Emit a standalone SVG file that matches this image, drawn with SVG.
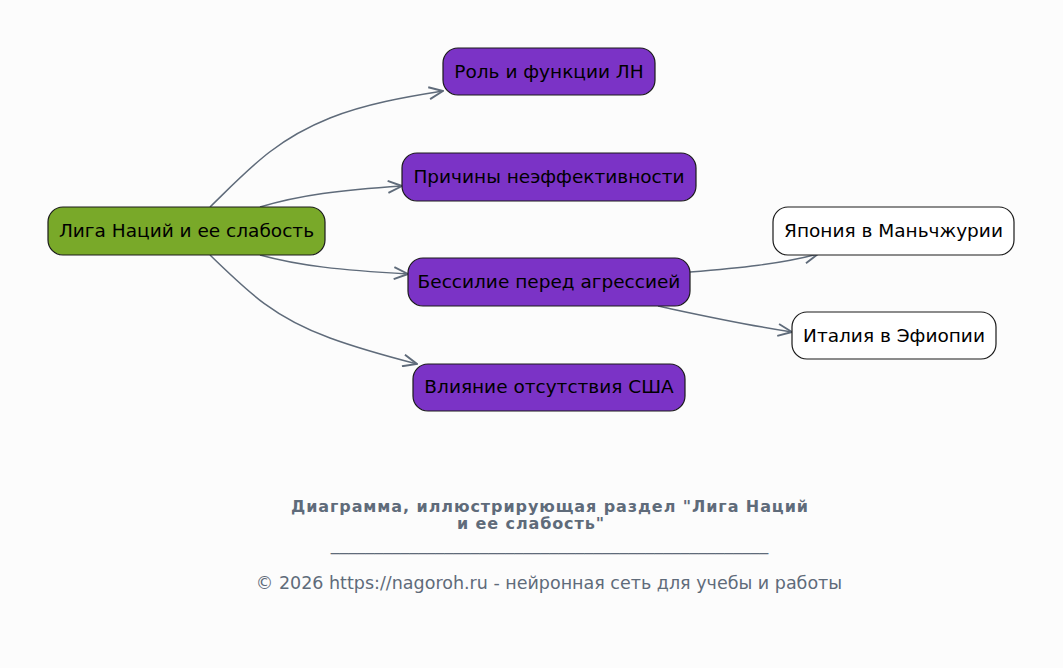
<svg xmlns="http://www.w3.org/2000/svg" width="1063" height="668" viewBox="0 0 1063 668">
<defs>
<style>
.n rect{stroke:#1a1a1a;stroke-width:1.2}
.p rect{fill:#7b33c6}
.w rect{fill:#ffffff}
.g rect{fill:#79a929}
.n text{font-family:"DejaVu Sans",sans-serif;font-size:18.5px;fill:#000;text-anchor:middle;dominant-baseline:central}
.e path{fill:none;stroke:#5f6b7a;stroke-width:1.5}
.t{font-family:"DejaVu Sans",sans-serif;fill:#5f6b7a;text-anchor:middle}
</style>
<marker id="ah" viewBox="0 0 16 14" refX="15" refY="7" markerWidth="16" markerHeight="14" markerUnits="userSpaceOnUse" orient="auto">
<path d="M1,1 L15,7 L1,13" fill="none" stroke="#5f6b7a" stroke-width="1.9"/>
</marker>
</defs>
<rect width="1063" height="668" fill="#fcfcfc"/>
<g id="connectors" class="e">
<path d="M210,207 C250,168 275,140 330,118 C365,104 405,97 443,91" marker-end="url(#ah)"/>
<path d="M260,207 C300,195 340,190 402,186" marker-end="url(#ah)"/>
<path d="M260,255 C300,266 340,270 408,274" marker-end="url(#ah)"/>
<path d="M210,255 C250,294 275,318 330,338 C360,349 390,357 417,364" marker-end="url(#ah)"/>
<path d="M690,272 C740,268 780,264 818,254" marker-end="url(#ah)"/>
<path d="M658,306 C700,315 740,324 792,332" marker-end="url(#ah)"/>
</g>
<g id="n0" class="n g"><rect x="48" y="207" width="277" height="48" rx="15"/><text x="186.5" y="230">Лига Наций и ее слабость</text></g>
<g id="n1" class="n p"><rect x="443" y="48" width="212" height="47" rx="15"/><text x="549" y="71">Роль и функции ЛН</text></g>
<g id="n2" class="n p"><rect x="402" y="153" width="294" height="48" rx="15"/><text x="549" y="176">Причины неэффективности</text></g>
<g id="n3" class="n p"><rect x="408" y="258" width="282" height="48" rx="15"/><text x="549" y="281">Бессилие перед агрессией</text></g>
<g id="n4" class="n p"><rect x="413" y="364" width="272" height="47" rx="15"/><text x="549" y="386">Влияние отсутствия США</text></g>
<g id="n5" class="n w"><rect x="773" y="207" width="241" height="48" rx="15"/><text x="893.5" y="230">Япония в Маньчжурии</text></g>
<g id="n6" class="n w"><rect x="792" y="312" width="204" height="47" rx="15"/><text x="894" y="335">Италия в Эфиопии</text></g>
<g id="caption">
<text class="t" x="549.5" y="512" font-size="16" font-weight="bold" textLength="517" lengthAdjust="spacing">Диаграмма, иллюстрирующая раздел "Лига Наций</text>
<text class="t" x="457" y="529" font-size="16" font-weight="bold" textLength="147" lengthAdjust="spacing" style="text-anchor:start">и ее слабость"</text>
<text class="t" x="549.5" y="550" font-size="17.5">__________________________________________________</text>
<text class="t" x="549" y="589" font-size="17.5">© 2026 https://nagoroh.ru - нейронная сеть для учебы и работы</text>
</g>
</svg>
